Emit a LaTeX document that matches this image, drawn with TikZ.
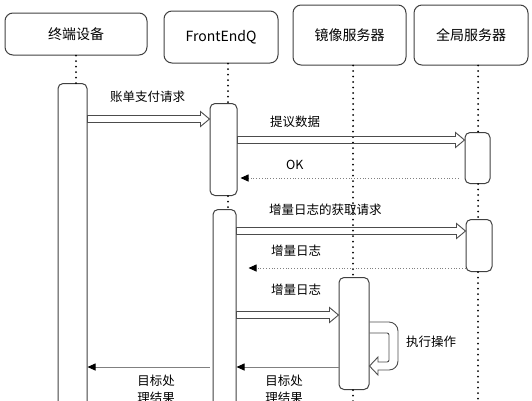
\documentclass[tikz,border=0pt]{standalone}
\usepackage{fontspec}
\setmainfont{Noto Sans CJK SC}
\usetikzlibrary{arrows.meta}

% hollow message arrow between two named points
\newcommand{\fatarrow}[2]{%
  \draw[fat] ([yshift=3.5pt]#1) -- ([xshift=-9pt,yshift=3.5pt]#2) -- ([xshift=-9pt,yshift=7.5pt]#2) -- (#2)
    -- ([xshift=-9pt,yshift=-7.5pt]#2) -- ([xshift=-9pt,yshift=-3.5pt]#2) -- ([yshift=-3.5pt]#1) -- cycle;}

\tikzset{
  head/.style={draw=black!75, line width=1pt, rounded corners=8pt, inner sep=0pt, font=\fontsize{14}{16}\selectfont},
  bar/.style={draw=black!75, line width=1pt, rounded corners=5pt, inner sep=0pt, anchor=north},
  life/.style={black, line width=2pt, dash pattern=on 0pt off 5.5pt, line cap=round},
  fat/.style={draw=black!70, line width=0.9pt},
  ret/.style={black!50, line width=0.8pt, -{Triangle[length=8pt,width=7pt,color=black]}},
  lbl/.style={font=\fontsize{12.5}{17}\selectfont, inner sep=0pt, anchor=west},
}

\begin{document}
\begin{tikzpicture}[x=1pt,y=-1pt]
\useasboundingbox (0,0) rectangle (532,400);
\clip (0,0) rectangle (532,400);

% participants
\node[head, minimum width=142pt, minimum height=42pt] (term) at (76,34) {终端设备};
\node[head, minimum width=114pt, minimum height=52pt] (fe) at (221,37) {FrontEndQ};
\node[head, minimum width=113pt, minimum height=60pt] (mir) at (349.5,35) {镜像服务器};
\node[head, minimum width=114pt, minimum height=60pt] (glob) at (471,35) {全局服务器};

% activation bars
\node[bar, minimum width=29pt, minimum height=340pt] (t1) at (72.5,83) {};
\node[bar, minimum width=27pt, minimum height=92pt] (f1) at (223.5,103) {};
\node[bar, minimum width=23pt, minimum height=220pt] (f2) at (224.5,209) {};
\node[bar, minimum width=25pt, minimum height=51pt] (g1) at (477.5,132) {};
\node[bar, minimum width=26pt, minimum height=52pt] (g2) at (479,219) {};
\node[bar, minimum width=30pt, minimum height=112pt] (mb) at (354,277) {};

% lifelines
\draw[life] (term.south) -- (term.south |- t1.north);
\draw[life] (fe.south -| 228,0) -- (f1.north -| 228,0);
\draw[life] (f1.south -| 228,0) -- (f2.north -| 228,0);
\draw[life] (mir.south -| 353,0) -- (mb.north -| 353,0);
\draw[life] (mb.south -| 353,0) -- (353,410);
\draw[life] (glob.south -| 478,0) -- (g1.north -| 478,0);
\draw[life] (g1.south -| 478,0) -- (g2.north -| 478,0);
\draw[life] (g2.south -| 478,0) -- (478,410);

% messages
\coordinate (a1) at (t1.east |- 0,119);
\coordinate (b1) at (f1.west |- 0,119);
\fatarrow{a1}{b1}
\node[lbl] (l1) at (110,97) {账单支付请求};

\coordinate (a2) at (f1.east |- 0,140);
\coordinate (b2) at (g1.west |- 0,140);
\fatarrow{a2}{b2}
\node[lbl] (l2) at (270,122) {提议数据};

\draw[ret, dotted, shorten <=6pt, shorten >=3pt] (g1.west |- 0,178) -- (f1.east |- 0,178);
\node[lbl] (l3) at (286,165) {OK};

\coordinate (a3) at (f2.east |- 0,231);
\coordinate (b3) at (g2.west |- 0,231);
\fatarrow{a3}{b3}
\node[lbl] (l4) at (269,210) {增量日志的获取请求};

\draw[ret, dotted, shorten >=12pt] (g2.west |- 0,268) -- (f2.east |- 0,268);
\node[lbl] (l5) at (271,251) {增量日志};

\coordinate (a4) at (f2.east |- 0,315);
\coordinate (b4) at (mb.west |- 0,315);
\fatarrow{a4}{b4}
\node[lbl] (l6) at (271,290) {增量日志};

% self call
\draw[fat] (mb.east |- 0,322) [rounded corners=9pt] -- (398,322) -- (398,370) [sharp corners] -- (378,370)
  -- (378,375) -- (mb.east |- 0,366) -- (378,357) -- (378,362) [rounded corners=2pt] -- (389,362) -- (389,333)
  [sharp corners] -- (mb.east |- 0,333);
\node[lbl] (l7) at (406,342) {执行操作};

% results
\draw[ret] (mb.west |- 0,367) -- (f2.east |- 0,367);
\node[lbl, anchor=north, align=center] (l8) at (284,375) {目标处\\理结果};
\draw[ret, shorten <=3pt] (f2.west |- 0,367) -- (t1.east |- 0,367);
\node[lbl, anchor=north, align=center] (l9) at (156,375) {目标处\\理结果};
\end{tikzpicture}
\end{document}
